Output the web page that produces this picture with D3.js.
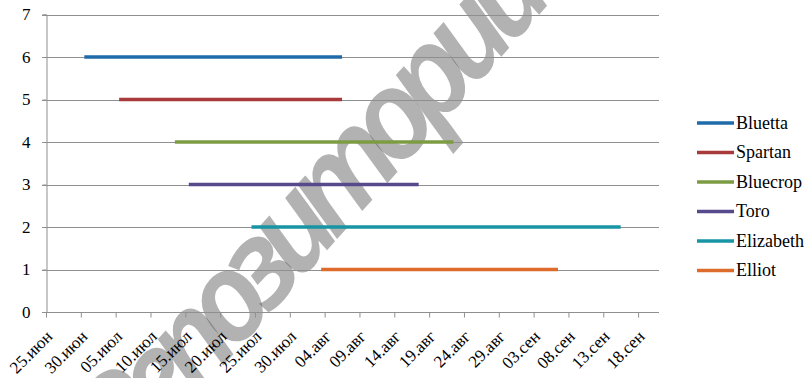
<!DOCTYPE html>
<html><head><meta charset="utf-8">
<script src="https://cdn.jsdelivr.net/npm/d3@7"></script>
<style>body{margin:0;background:#fff} svg{display:block}</style>
</head><body><svg id="c" width="805" height="378" font-family="Liberation Serif" style="font-family:'Liberation Serif',serif"></svg>
<script>
const series = ["Bluetta","Spartan","Bluecrop","Toro","Elizabeth","Elliot"];
const levels = [6,5,4,3,2,1];
const startDates = ["2014-06-30","2014-07-05","2014-07-13","2014-07-15","2014-07-24","2014-08-03"];
const endDates = ["2014-08-06","2014-08-06","2014-08-22","2014-08-17","2014-09-15","2014-09-06"];
const colors = ["#1f6aa8","#a83a3b","#7d9b45","#574a8c","#1795a5","#dd6b2c"];
const tickLabels = ["25.июн","30.июн","05.июл","10.июл","15.июл","20.июл","25.июл","30.июл","04.авг","09.авг","14.авг","19.авг","24.авг","29.авг","03.сен","08.сен","13.сен","18.сен"];
const yTicks = [0,1,2,3,4,5,6,7];
const axisStart = "2014-06-25", axisEnd = "2014-09-21";
const watermark = "Репозиторий";

const parse = d3.utcParse("%Y-%m-%d");
const svg = d3.select("#c");
const serif = '"Liberation Serif", serif';

const x = d3.scaleUtc().domain([parse(axisStart), parse(axisEnd)]).range([46, 659]);
const y = d3.scaleLinear().domain([0, 7]).range([312, 14.5]);
const mid = d => d3.utcHour.offset(parse(d), 12);

// watermark (behind)
const wm = svg.append("text").text(watermark)
  .attr("text-anchor", "middle")
  .attr("transform", "translate(338,238) rotate(-48)")
  .attr("fill", "#555").attr("fill-opacity", 0.45);
wm.node().style.fontFamily = '"Noto Sans", sans-serif';
wm.node().style.fontStyle = "italic";
wm.node().style.fontWeight = "600";
wm.node().style.fontSize = "122px";
wm.node().style.letterSpacing = "-15px";

// gridlines
svg.append("g").selectAll("line").data(yTicks.filter(v => v > 0)).join("line")
  .attr("x1", 42).attr("x2", 659)
  .attr("y1", d => Math.round(y(d)) + 0.5).attr("y2", d => Math.round(y(d)) + 0.5)
  .attr("stroke", "#8f8f8f").attr("stroke-width", 1);

function serifText(sel, size) {
  sel.attr("font-family", "Liberation Serif").attr("font-size", size).attr("fill", "#000")
    .each(function () { this.style.fontFamily = serif; this.style.fontSize = size + "px"; });
}

// y axis
const yAxis = svg.append("g").attr("transform", "translate(46.5,0)")
  .call(d3.axisLeft(y).tickValues(yTicks).tickSize(4).tickPadding(12).tickFormat(d3.format("d")));
yAxis.attr("font-family", null).attr("font-size", null);
yAxis.select(".domain").attr("stroke", "#8f8f8f");
yAxis.selectAll(".tick line").attr("stroke", "#8f8f8f");
serifText(yAxis.selectAll("text"), 17);

// x axis
const tickDates = tickLabels.map((t, i) => d3.utcDay.offset(parse(axisStart), 5 * i));
const xAxis = svg.append("g").attr("transform", "translate(0,312.5)")
  .call(d3.axisBottom(x).tickValues(tickDates).tickSize(5).tickSizeOuter(0)
    .tickFormat((d, i) => tickLabels[i]));
xAxis.attr("font-family", null).attr("font-size", null);
xAxis.select(".domain").attr("stroke", "#8f8f8f").attr("d", "M42,0H659");
xAxis.selectAll(".tick line").attr("stroke", "#8f8f8f");
xAxis.selectAll("text").attr("text-anchor", "end").attr("dy", 0).attr("y", 0)
  .attr("transform", "translate(7,25) rotate(-45)");
serifText(xAxis.selectAll("text"), 17);

// series lines
svg.append("g").selectAll("line").data(series).join("line")
  .attr("x1", (d, i) => x(mid(startDates[i]))).attr("x2", (d, i) => x(mid(endDates[i])))
  .attr("y1", (d, i) => y(levels[i])).attr("y2", (d, i) => y(levels[i]))
  .attr("stroke", (d, i) => colors[i]).attr("stroke-width", 3.5);

// legend
const lg = svg.append("g").selectAll("g").data(series).join("g")
  .attr("transform", (d, i) => `translate(697,${123 + i * 29.5})`);
lg.append("line").attr("x1", 0).attr("x2", 37).attr("stroke", (d, i) => colors[i]).attr("stroke-width", 3.5);
const lt = lg.append("text").attr("x", 39).attr("dy", "0.33em").text(d => d);
serifText(lt, 18);
</script></body></html>
